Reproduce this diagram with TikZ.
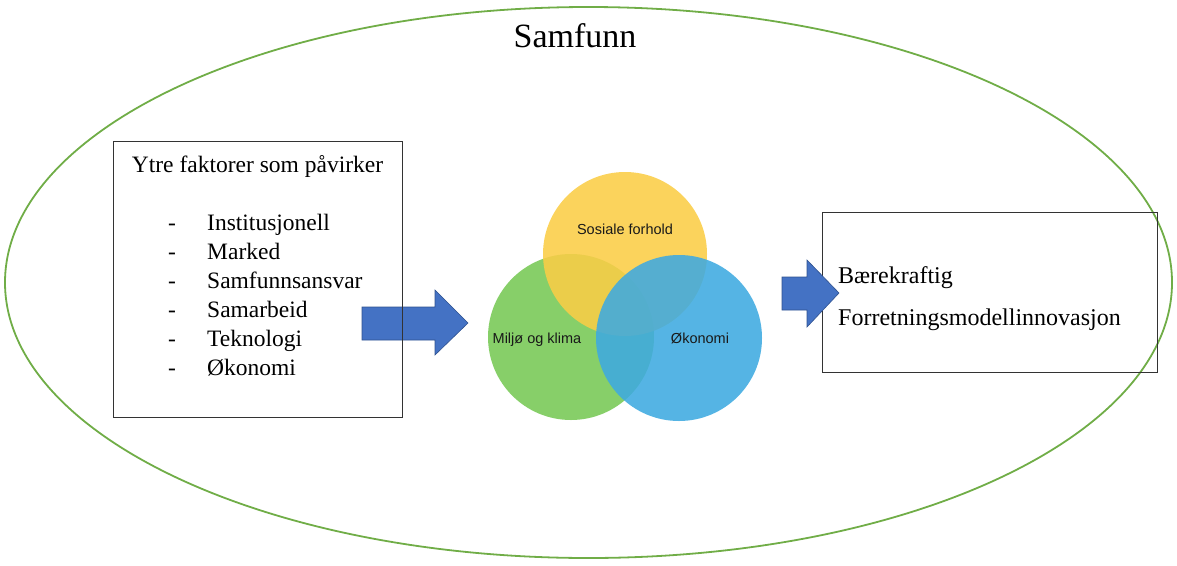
\documentclass[tikz,border=0pt]{standalone}
\usepackage{fontspec}
\setmainfont{Liberation Serif}
\newfontfamily\venn{Liberation Sans}
\definecolor{ringgreen}{RGB}{112,173,71}
\definecolor{arrowblue}{RGB}{68,114,196}
\definecolor{arrowedge}{RGB}{47,82,143}
\definecolor{cyellow}{RGB}{250,205,70}
\definecolor{cgreen}{RGB}{118,200,84}
\definecolor{cblue}{RGB}{62,170,224}
\begin{document}
\begin{tikzpicture}[x=1pt,y=-1pt,
  serif/.style={font=\fontsize{23.5}{28}\selectfont, inner sep=0pt},
  item/.style={serif, anchor=base west},
  dashmark/.style={serif, anchor=base},
  box/.style={draw=black!80, line width=0.8pt},
  blockarrow/.style={fill=arrowblue, draw=arrowedge, line width=0.6pt},
  venncircle/.style={fill opacity=0.88},
  venntext/.style={font=\venn\fontsize{14.5}{17}\selectfont, inner sep=0pt, anchor=base, text=black!90}]
\useasboundingbox (0,0) rectangle (1177,565);
% outer ellipse
\draw[ringgreen, line width=1.8pt] (588.5,282.5) ellipse [x radius=583.5, y radius=275.5];
\node[font=\fontsize{34}{40}\selectfont, inner sep=0pt, anchor=base] (samfunn) at (575,47) {Samfunn};
% left arrow
\draw[blockarrow] (362,307) -- (435,307) -- (435,290) -- (468,323) -- (435,355) -- (435,340) -- (362,340) -- cycle;
% left box
\node[box, minimum width=289pt, minimum height=276pt, anchor=north west, inner sep=0pt] (ytre) at (113,141) {};
\node[serif, anchor=base] (ytretitle) at (257.5,172) {Ytre faktorer som påvirker};
\foreach \t/\y [count=\i] in {Institusjonell/230, Marked/259, Samfunnsansvar/288, Samarbeid/317, Teknologi/346, Økonomi/375}{
  \node[dashmark] (d\i) at (172,\y) {-};
  \node[item] (f\i) at (207,\y) {\t};
}
% venn
\fill[cgreen, venncircle] (571,337) circle [radius=83];
\fill[cyellow, venncircle] (625,254) circle [radius=82];
\fill[cblue, venncircle] (679,338) circle [radius=83];
\node[venntext] (sos) at (625,234) {Sosiale forhold};
\node[venntext] (milj) at (537,343) {Miljø og klima};
\node[venntext] (oko) at (700,343) {Økonomi};
% right box
\node[box, minimum width=335pt, minimum height=160pt, anchor=north west, inner sep=0pt] (res) at (822,212) {};
\draw[blockarrow] (782,277) -- (807,277) -- (807,260) -- (839,293) -- (807,327) -- (807,310) -- (782,310) -- cycle;
\node[item, font=\fontsize{24}{28}\selectfont] (b1) at (838,283) {Bærekraftig};
\node[item, font=\fontsize{24}{28}\selectfont] (b2) at (838,325) {Forretningsmodellinnovasjon};
\end{tikzpicture}
\end{document}
